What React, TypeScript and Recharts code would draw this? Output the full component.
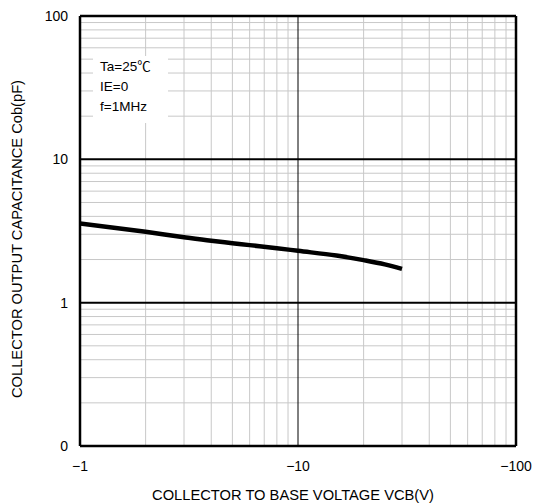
import React from 'react';
import { LineChart, Line, XAxis, YAxis, ReferenceLine } from 'recharts';

// collector-base voltage magnitude (V) and output capacitance (pF)
const voltage = [1, 2, 3, 4, 5, 6, 8, 10, 15, 20, 25, 30];
const capacitance = [3.57, 3.12, 2.86, 2.7, 2.6, 2.52, 2.4, 2.3, 2.13, 1.98, 1.85, 1.72];

const xTicks = [1, 10, 100];
const yTicks = [0.1, 1, 10, 100];
const xMinor = [2, 3, 4, 5, 6, 7, 8, 9, 20, 30, 40, 50, 60, 70, 80, 90];
const yMinor = [0.2, 0.3, 0.4, 0.5, 0.6, 0.7, 0.8, 0.9, 2, 3, 4, 5, 6, 7, 8, 9, 20, 30, 40, 50, 60, 70, 80, 90];
const conditions = ['Ta=25℃', 'IE=0', 'f=1MHz'];

const data = voltage.map((v, i) => ({ v, c: capacitance[i] }));

const FONT = '"Liberation Sans", "Noto Sans CJK JP", sans-serif';
const tickStyle = { fontSize: 14, fill: '#000', fontFamily: FONT };

export default function App() {
  return (
    <div style={{ position: 'absolute', left: 0, top: 0, width: 533, height: 503, background: '#fff' }}>
      <LineChart width={533} height={503} data={data} margin={{ top: 16, right: 17, bottom: 0, left: 0 }}>
        <XAxis
          dataKey="v"
          type="number"
          scale="log"
          domain={[1, 100]}
          ticks={xTicks}
          allowDataOverflow
          axisLine={false}
          tickLine={false}
          tickMargin={9}
          height={57}
          tick={tickStyle}
          tickFormatter={(v) => `\u2212${v}`}
          label={{ value: 'COLLECTOR TO BASE VOLTAGE VCB(V)', position: 'insideBottom', offset: 3, dx: -5, style: { fontSize: 14.7, fill: '#000', fontFamily: FONT } }}
        />
        <YAxis
          type="number"
          scale="log"
          domain={[0.1, 100]}
          ticks={yTicks}
          allowDataOverflow
          axisLine={false}
          tickLine={false}
          tickMargin={6}
          width={80}
          tick={tickStyle}
          tickFormatter={(v) => (v === 0.1 ? '0' : String(v))}
          label={{ value: 'COLLECTOR OUTPUT CAPACITANCE Cob(pF)', angle: -90, position: 'center', dx: -23, dy: 8, style: { fontSize: 14.7, fill: '#000', fontFamily: FONT } }}
        />
        {xMinor.map((x) => (
          <ReferenceLine key={'vx' + x} x={x} stroke="#c8c8c8" strokeWidth={1} />
        ))}
        {yMinor.map((y) => (
          <ReferenceLine key={'hy' + y} y={y} stroke="#c8c8c8" strokeWidth={1} />
        ))}
        <ReferenceLine x={10} stroke="#000" strokeWidth={1} />
        <ReferenceLine y={10} stroke="#000" strokeWidth={2} />
        <ReferenceLine y={1} stroke="#000" strokeWidth={2} />
        <ReferenceLine x={1} stroke="#000" strokeWidth={2.5} />
        <ReferenceLine x={100} stroke="#000" strokeWidth={2.5} />
        <ReferenceLine y={0.1} stroke="#000" strokeWidth={2.5} />
        <ReferenceLine y={100} stroke="#000" strokeWidth={2.5} />
        <Line
          type="monotone"
          dataKey="c"
          stroke="#000"
          strokeWidth={4.5}
          dot={false}
          isAnimationActive={false}
        />
      </LineChart>
      <div
        style={{
          position: 'absolute',
          left: 93,
          top: 56,
          width: 75,
          height: 67,
          background: '#fff',
          paddingTop: 1,
          paddingLeft: 7,
          boxSizing: 'border-box',
          fontFamily: FONT,
          fontSize: 13.5,
          lineHeight: '20px',
          color: '#000',
        }}
      >
        {conditions.map((t) => (
          <div key={t}>{t}</div>
        ))}
      </div>
    </div>
  );
}
